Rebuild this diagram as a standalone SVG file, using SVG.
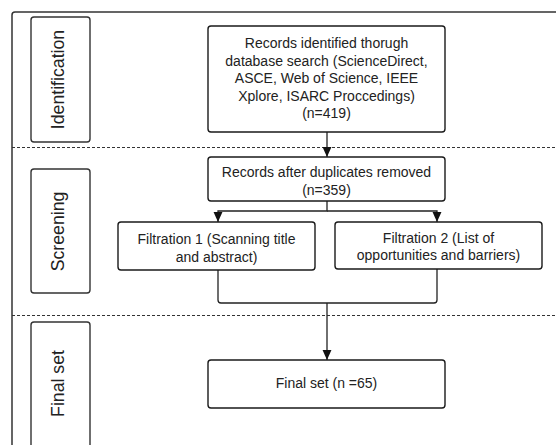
<svg xmlns="http://www.w3.org/2000/svg" width="556" height="445" viewBox="0 0 556 445">
<defs>
<marker id="arr" markerUnits="userSpaceOnUse" markerWidth="10" markerHeight="10" viewBox="0 0 9 8" refX="9" refY="4" orient="auto">
<path d="M0,0 L9,4 L0,8 z" fill="#111"/>
</marker>
<style>
.box{fill:#fff;stroke:#1a1a1a;stroke-width:1.4}
.lbl{fill:none;stroke:#333;stroke-width:1.4}
.t{font-family:"Liberation Sans",Arial,sans-serif;font-size:14px;fill:#222;text-anchor:middle}
.v{font-family:"Liberation Sans",Arial,sans-serif;font-size:17.7px;fill:#222;text-anchor:middle}
.dash{stroke:#333;stroke-width:1.2;stroke-dasharray:3 2;fill:none}
.c{fill:none;stroke:#222;stroke-width:1.3}
</style>
</defs>
<rect width="556" height="445" fill="#fff"/>
<rect x="12" y="12" width="560" height="460" rx="3" fill="none" stroke="#333" stroke-width="1.5"/>
<line class="dash" x1="12" y1="147.5" x2="556" y2="147.5"/>
<line class="dash" x1="12" y1="315.5" x2="556" y2="315.5"/>

<g id="lane-identification">
<rect class="lbl" x="31" y="17" width="59" height="125" rx="3"/>
<text class="v" transform="translate(63.5,79.5) rotate(-90)">Identification</text>
</g>
<g id="lane-screening">
<rect class="lbl" x="31" y="169" width="59" height="124" rx="3"/>
<text class="v" transform="translate(63.5,231.5) rotate(-90)">Screening</text>
</g>
<g id="lane-finalset">
<rect class="lbl" x="31" y="322" width="59" height="140" rx="3"/>
<text class="v" transform="translate(63.5,383.5) rotate(-90)">Final set</text>
</g>

<g id="connectors">
<path class="c" d="M327,132 V157" marker-end="url(#arr)"/>
<path class="c" d="M327,201 V211 H218 V222" marker-end="url(#arr)"/>
<path class="c" d="M327,211 H437 V222" marker-end="url(#arr)"/>
<path class="c" d="M218,270 V300 Q218,303 221,303 H434 Q437,303 437,300 V269"/>
<path class="c" d="M327,303 V360" marker-end="url(#arr)"/>
</g>

<g id="n-identified">
<rect class="box" x="208" y="26" width="237" height="106" rx="3"/>
<text class="t" x="326.5" y="48">Records identified thorugh</text>
<text class="t" x="326.5" y="66">database search (ScienceDirect,</text>
<text class="t" x="326.5" y="83">ASCE, Web of Science, IEEE</text>
<text class="t" x="326.5" y="101">Xplore, ISARC Proccedings)</text>
<text class="t" x="326.5" y="118">(n=419)</text>
</g>
<g id="n-duplicates">
<rect class="box" x="208" y="157" width="237" height="44" rx="3"/>
<text class="t" x="326.5" y="177">Records after duplicates removed</text>
<text class="t" x="326.5" y="195">(n=359)</text>
</g>
<g id="n-filtration1">
<rect class="box" x="118" y="222" width="197" height="48" rx="3"/>
<text class="t" x="216.5" y="244">Filtration 1 (Scanning title</text>
<text class="t" x="216.5" y="262">and abstract)</text>
</g>
<g id="n-filtration2">
<rect class="box" x="335" y="222" width="207" height="47" rx="3"/>
<text class="t" x="438.5" y="243">Filtration 2 (List of</text>
<text class="t" x="438.5" y="260">opportunities and barriers)</text>
</g>
<g id="n-final">
<rect class="box" x="208" y="360" width="237" height="48" rx="3"/>
<text class="t" x="326.5" y="388">Final set (n =65)</text>
</g>
</svg>
